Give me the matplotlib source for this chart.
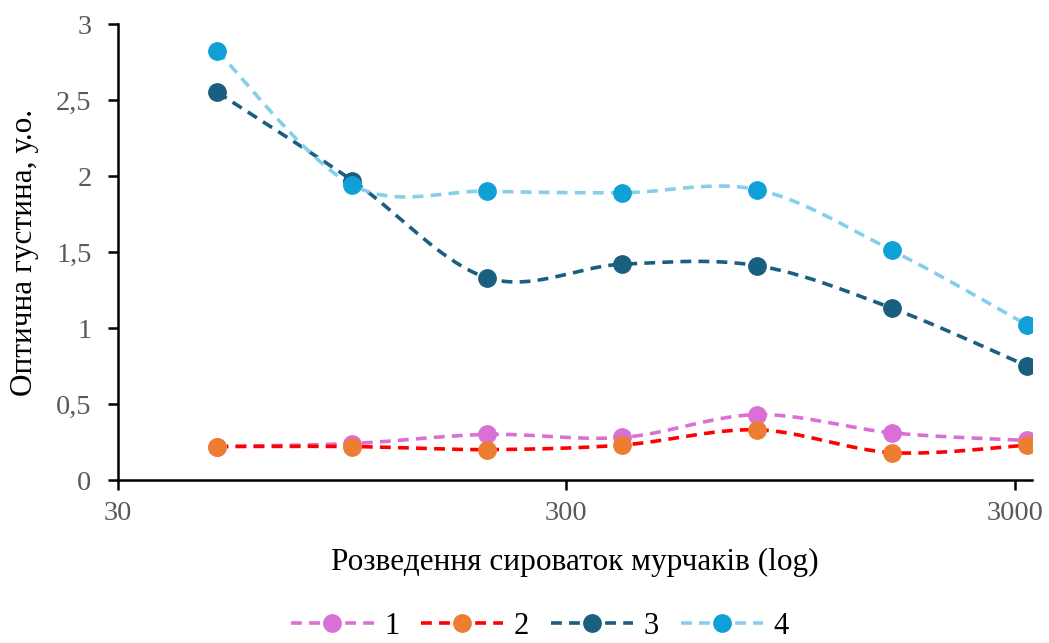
import matplotlib.pyplot as plt
import numpy as np

dilutions = [50, 100, 200, 400, 800, 1600, 3200]
series_1 = [0.22, 0.24, 0.30, 0.28, 0.43, 0.31, 0.26]
series_2 = [0.22, 0.22, 0.20, 0.23, 0.33, 0.18, 0.23]
series_3 = [2.55, 1.97, 1.33, 1.42, 1.41, 1.13, 0.75]
series_4 = [2.82, 1.94, 1.90, 1.89, 1.91, 1.51, 1.02]
labels = ["1", "2", "3", "4"]

plt.rcParams['font.family'] = ['Liberation Serif', 'DejaVu Serif']


def smooth(xs, ys, px_decade, px_unit, n=40):
    # Catmull-Rom through the points, done in pixel-like space (log x)
    u = np.log10(xs) * px_decade
    v = np.array(ys) * px_unit
    pts = np.column_stack([u, v])
    out = [pts[0]]
    for i in range(len(pts) - 1):
        p0 = pts[i - 1] if i > 0 else pts[i]
        p1 = pts[i]
        p2 = pts[i + 1]
        p3 = pts[i + 2] if i + 2 < len(pts) else pts[i + 1]
        c1 = p1 + (p2 - p0) / 6
        c2 = p2 - (p3 - p1) / 6
        t = np.linspace(0, 1, n)[1:, None]
        seg = ((1 - t) ** 3 * p1 + 3 * (1 - t) ** 2 * t * c1
               + 3 * (1 - t) * t ** 2 * c2 + t ** 3 * p2)
        out.extend(seg)
    out = np.array(out)
    return 10 ** (out[:, 0] / px_decade), out[:, 1] / px_unit


fig = plt.figure(figsize=(10.49, 6.43), dpi=100)
ax = fig.add_axes([118 / 1049, 1 - 480 / 643, (1032 - 118) / 1049, (480 - 24) / 643])

styles = [
    (series_1, "#DA70D6", "#DA70D6"),
    (series_2, "#FF0000", "#ED7D31"),
    (series_3, "#1A5F80", "#1A5F80"),
    (series_4, "#87CEEB", "#10A0D8"),
]

handles = []
for (vals, lc, mc), lab in zip(styles, labels):
    sx, sy = smooth(dilutions, vals, 449, 152)
    ax.plot(sx, sy, color=lc, lw=2.6, ls=(0, (3, 2)), zorder=2)
    ax.plot(dilutions, vals, ls="none", marker="o", ms=12.5,
            mfc=mc, mec=mc, zorder=3)
    h, = ax.plot([], [], color=lc, lw=2.6, ls=(0, (3, 2)), marker="o",
                 ms=12.5, mfc=mc, mec=mc)
    handles.append(h)

ax.set_xscale("log")
ax.set_xlim(30, 3280)
ax.set_ylim(0, 3)
ax.set_xticks([30, 300, 3000])
ax.set_xticklabels(["30", "300", "3000"])
ax.xaxis.set_minor_locator(plt.NullLocator())
ax.set_yticks([0, 0.5, 1, 1.5, 2, 2.5, 3])
ax.set_yticklabels(["0", "0,5", "1", "1,5", "2", "2,5", "3"])

for s in ["top", "right"]:
    ax.spines[s].set_visible(False)
for s in ["left", "bottom"]:
    ax.spines[s].set_linewidth(1.8)
ax.tick_params(direction="out", length=7, width=1.8, labelsize=20.5,
               labelcolor="#595959")
ax.tick_params(axis="y", pad=12)
ax.tick_params(axis="x", pad=8)

ax.set_xlabel("Розведення сироваток мурчаків (log)", fontsize=22.5, labelpad=16)
ax.set_ylabel("Оптична густина, у.о.", fontsize=22.5, labelpad=12)

fig.legend(handles=handles, labels=labels, loc="center", ncol=4,
           bbox_to_anchor=(540 / 1049, 1 - 626 / 643), frameon=False,
           fontsize=22, handlelength=2.7, columnspacing=0.7, handletextpad=0.35,
           borderpad=0.1)

fig.savefig("out.png", dpi=100)
